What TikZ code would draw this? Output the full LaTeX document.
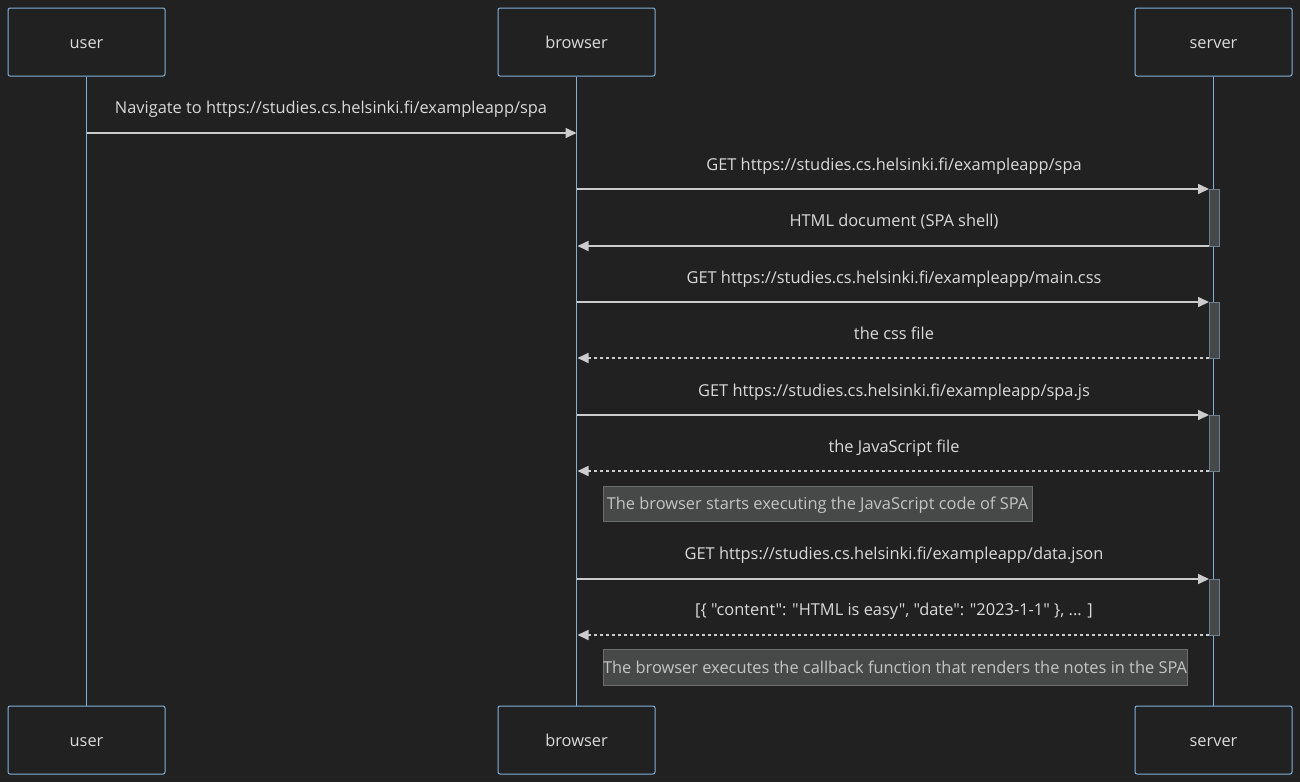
\documentclass[tikz,border=0pt]{standalone}
\usepackage{fontspec}
\setmainfont{Open Sans}[Ligatures=TeXOff]
\usetikzlibrary{arrows.meta}
\definecolor{bg}{HTML}{212121}
\definecolor{actb}{HTML}{81B1DB}
\definecolor{txt}{HTML}{DADADA}
\definecolor{msg}{HTML}{CCCCCC}
\definecolor{actfill}{HTML}{474949}
\definecolor{actline}{HTML}{6A7F93}
\definecolor{notefill}{HTML}{474949}
\definecolor{notetxt}{HTML}{C4C4C4}
\tikzset{
  fnt/.style={font=\fontsize{16.4}{19}\selectfont, text height=12pt, text depth=0pt},
  actor/.style={draw=actb, fill=bg, line width=1pt, rounded corners=2pt, minimum width=157pt, minimum height=68pt, inner sep=0pt, text=txt, fnt},
  life/.style={draw=actb, line width=1.6pt},
  msgline/.style={draw=msg, line width=1.6pt, -{Triangle[length=11pt,width=10pt]}},
  reply/.style={msgline, dash pattern=on 3pt off 3pt},
  lbl/.style={text=txt, fnt, inner sep=0pt},
  actbox/.style={draw=actline, fill=actfill, line width=1pt},
  notebox/.style={draw=notefill!80!white, fill=notefill, text=notetxt, fnt, inner sep=0pt, line width=0.5pt}
}
\begin{document}
\begin{tikzpicture}[x=1pt,y=-1pt]
\useasboundingbox[fill=bg] (0,0) rectangle (1300,782);
% actors
\node[actor] (ut) at (86.5,42) {user};
\node[actor] (bt) at (576.5,42) {browser};
\node[actor] (st) at (1213.5,42) {server};
\node[actor] (ub) at (86.5,740) {user};
\node[actor] (bb) at (576.5,740) {browser};
\node[actor] (sb) at (1213.5,740) {server};
% lifelines
\draw[life] (ut.south) -- (ub.north);
\draw[life] (bt.south) -- (bb.north);
\draw[life] (st.south) -- (sb.north);
% activation boxes
\node[actbox, minimum width=10pt, minimum height=57pt, inner sep=0pt] (a1) at (1214,217.5) {};
\node[actbox, minimum width=10pt, minimum height=56pt, inner sep=0pt] (a2) at (1214,330) {};
\node[actbox, minimum width=10pt, minimum height=56pt, inner sep=0pt] (a3) at (1214,443) {};
\node[actbox, minimum width=10pt, minimum height=56pt, inner sep=0pt] (a4) at (1214,607) {};
% coordinates
\coordinate (u1) at (86.5,133);
\coordinate (b1) at (576.5,133);
\coordinate (b2) at (576.5,189);
\coordinate (s2) at (1209,189);
\coordinate (s3) at (1209,246);
\coordinate (b3) at (577.5,246);
\coordinate (b4) at (576.5,302);
\coordinate (s4) at (1209,302);
\coordinate (s5) at (1209,358);
\coordinate (b5) at (577.5,358);
\coordinate (b6) at (576.5,415);
\coordinate (s6) at (1209,415);
\coordinate (s7) at (1209,471);
\coordinate (b7) at (577.5,471);
\coordinate (b8) at (576.5,579);
\coordinate (s8) at (1209,579);
\coordinate (s9) at (1209,635);
\coordinate (b9) at (577.5,635);
% messages
\draw[msgline] (u1) -- (b1);
\node[lbl] (l1) at (331,107) {Navigate to https://studies.cs.helsinki.fi/exampleapp/spa};
\draw[msgline] (b2) -- (s2);
\node[lbl] (l2) at (894,164) {GET https://studies.cs.helsinki.fi/exampleapp/spa};
\draw[msgline] (s3) -- (b3);
\node[lbl] (l3) at (894,220) {HTML document (SPA shell)};
\draw[msgline] (b4) -- (s4);
\node[lbl] (l4) at (894,277) {GET https://studies.cs.helsinki.fi/exampleapp/main.css};
\draw[reply] (s5) -- (b5);
\node[lbl] (l5) at (894,333) {the css file};
\draw[msgline] (b6) -- (s6);
\node[lbl] (l6) at (894,390) {GET https://studies.cs.helsinki.fi/exampleapp/spa.js};
\draw[reply] (s7) -- (b7);
\node[lbl] (l7) at (894,446) {the JavaScript file};
\node[notebox, minimum width=429pt, minimum height=35pt] (n1) at (817.5,503.5) {The browser starts executing the JavaScript code of SPA};
\draw[msgline] (b8) -- (s8);
\node[lbl] (l8) at (894,553) {GET https://studies.cs.helsinki.fi/exampleapp/data.json};
\draw[reply] (s9) -- (b9);
\node[lbl] (l9) at (894,609) {[\{ "content": "HTML is easy", "date": "2023-1-1" \}, ... ]};
\node[notebox, minimum width=584pt, minimum height=36pt] (n2) at (895,667) {The browser executes the callback function that renders the notes in the SPA};
\end{tikzpicture}
\end{document}
